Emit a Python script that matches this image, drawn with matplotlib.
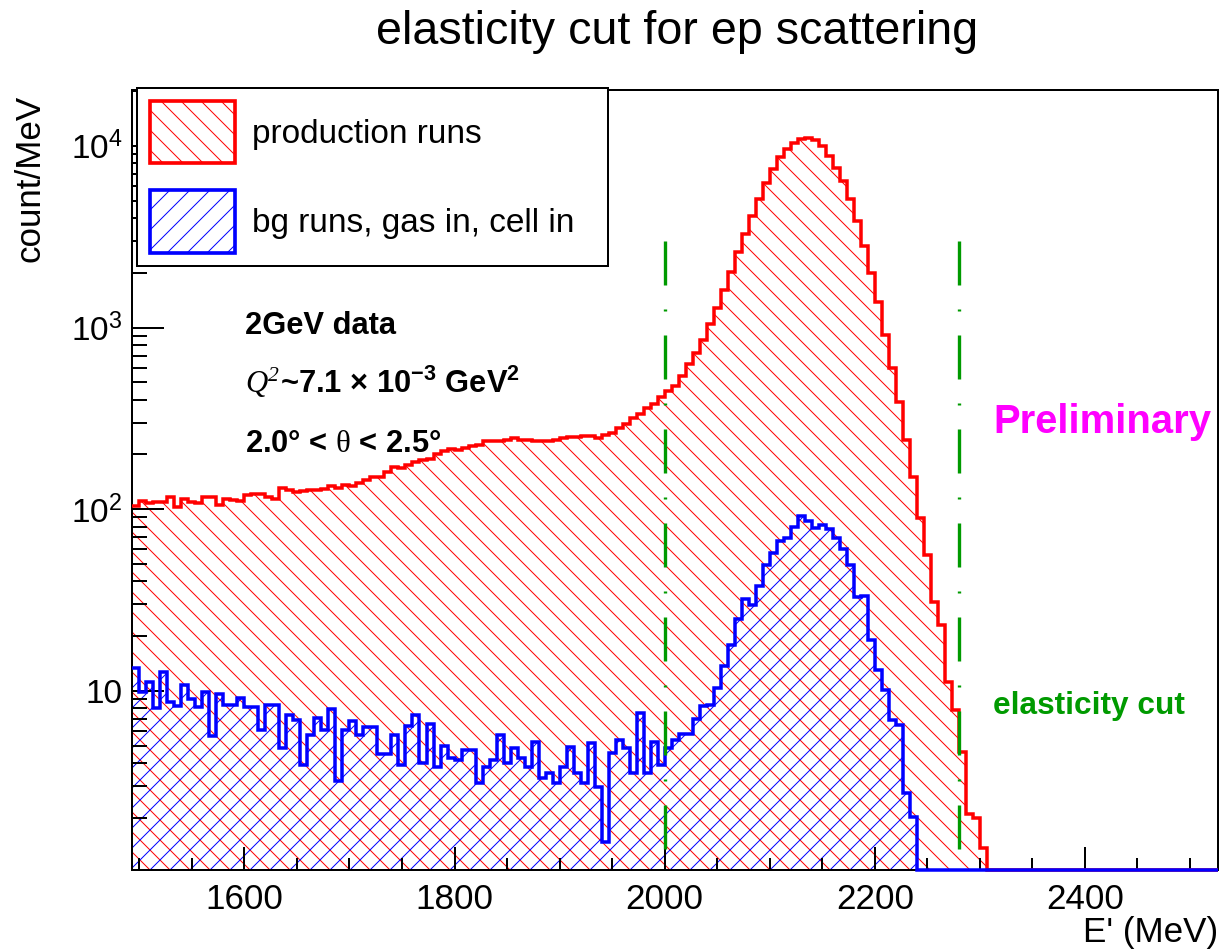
import numpy as np
import matplotlib
matplotlib.use("Agg")
import matplotlib.pyplot as plt
from matplotlib.patches import Patch
from matplotlib.ticker import (FixedLocator, FixedFormatter, MultipleLocator,
                               LogLocator, NullFormatter)

plt.rcParams["font.family"] = ["Liberation Sans", "DejaVu Sans"]
plt.rcParams["mathtext.fontset"] = "custom"
plt.rcParams["mathtext.rm"] = "Liberation Serif"
plt.rcParams["mathtext.it"] = "Liberation Serif:italic"
plt.rcParams["mathtext.bf"] = "Liberation Sans:bold"
plt.rcParams["mathtext.default"] = "regular"
plt.rcParams["hatch.linewidth"] = 0.6

# binning of E' (MeV)
e_lo = 1493.33
bin_w = 20.0 / 3.0
n_bins = 155

# count/MeV, production runs (bins 0..154)
production = [
    104, 111, 108, 110, 110, 117, 102.5, 113.5, 109, 108,
    116, 116, 106, 113.5, 112.5, 111, 120, 121, 121, 117,
    114, 130, 127, 125, 126, 128, 128, 129, 135, 130,
    136, 134, 139, 145, 150, 150, 161, 170, 168, 175,
    183, 187, 190, 202, 208, 214, 212, 217, 222, 226,
    236, 236, 238, 240, 246, 239, 239, 238, 236, 236,
    240, 247, 249, 249, 253, 253, 246, 256, 264, 280,
    295, 317, 334, 362, 378, 415, 445, 479, 541, 628,
    728, 853, 1040, 1278, 1611, 2016, 2618, 3282, 4131, 5105,
    6209, 7446, 8668, 9556, 10400, 10920, 11050, 10720, 9950, 8830,
    7590, 6400, 5105, 3838, 2818, 1994, 1384, 905, 598, 389,
    241, 151, 89, 56, 31, 23, 11.2, 7.8, 4.6, 2.1,
    2.0, 1.37, 0, 0, 0, 0, 0, 0, 0, 0,
    0, 0, 0, 0, 0, 0, 0, 0, 0, 0,
    0, 0, 0, 0, 0, 0, 0, 0, 0, 0,
    0, 0, 0, 0, 0,
]

# count/MeV, background runs (gas in, cell in)
background = [
    13.3, 9.9, 11.2, 8.0, 12.7, 8.7, 8.25, 10.8, 9.0, 8.2,
    9.8, 5.65, 9.6, 8.4, 8.4, 9.1, 8.2, 8.2, 6.1, 8.4,
    8.4, 4.83, 7.4, 6.9, 3.9, 5.7, 7.1, 6.1, 7.9, 3.19,
    6.1, 6.8, 5.7, 6.35, 6.35, 4.5, 4.5, 5.7, 3.9, 6.4,
    7.4, 4.0, 6.6, 3.83, 5.0, 4.26, 4.17, 4.73, 4.73, 3.10,
    3.83, 4.17, 5.73, 4.0, 4.83, 4.26, 3.83, 5.26, 3.30, 3.52,
    3.10, 3.83, 4.94, 3.52, 3.10, 5.15, 2.97, 1.48, 4.54, 5.38,
    4.83, 3.52, 7.54, 3.52, 5.26, 3.91, 4.87, 5.34, 5.78, 5.78,
    7.0, 8.3, 8.4, 10.4, 13.7, 17.8, 24.8, 32.0, 29.8, 38.0,
    49.6, 57.1, 67.2, 69.3, 79.7, 91.2, 85.8, 78.8, 82.2, 77.3,
    69.3, 60.7, 49.0, 33.0, 33.4, 19.1, 13.0, 10.1, 6.93, 6.52,
    2.74, 2.02, 0, 0, 0, 0, 0, 0, 0, 0,
    0, 0, 0, 0, 0, 0, 0, 0, 0, 0,
    0, 0, 0, 0, 0, 0, 0, 0, 0, 0,
    0, 0, 0, 0, 0, 0, 0, 0, 0, 0,
    0, 0, 0, 0, 0,
]

labels = ["production runs", "bg runs, gas in, cell in"]
cuts = [2000, 2280]
cut_top = 3000
y_ticks = [10, 100, 1000, 10000]
y_ticklabels = ["10", "$10^{2}$", "$10^{3}$", "$10^{4}$"]

edges = e_lo + bin_w * np.arange(n_bins + 1)
y_lo, y_hi = 1.033, 2.03e4

fig = plt.figure(figsize=(10.2, 7.925), dpi=120)
ax = fig.add_axes([0.1081, 0.0852, 0.8870, 0.8202])
ax.set_yscale("log")

series = [(production, "red", r"\\"), (background, "blue", "//")]
for vals, col, hatch in series:
    v = np.asarray(vals, dtype=float)
    v = np.where(v > 0, v, y_lo)
    ax.stairs(v, edges, baseline=1e-3, fill=True, facecolor="none",
              edgecolor=col, hatch=hatch, linewidth=0, zorder=1)
for vals, col, hatch in series:
    v = np.asarray(vals, dtype=float)
    v = np.where(v > 0, v, y_lo)
    ax.stairs(v, edges, baseline=None, color=col, linewidth=2.1,
              zorder=3, clip_on=False)

for c in cuts:
    ax.plot([c, c], [cut_top, y_lo * 0.99], color="#009a00", linewidth=2.0,
            dashes=(13.2, 7.2, 0.6, 7.2), zorder=4)

ax.set_xlim(edges[0], edges[-1])
ax.set_ylim(y_lo, y_hi)

ax.xaxis.set_major_locator(MultipleLocator(200))
ax.xaxis.set_minor_locator(MultipleLocator(50))
ax.yaxis.set_major_locator(FixedLocator(y_ticks))
ax.yaxis.set_major_formatter(FixedFormatter(y_ticklabels))
ax.yaxis.set_minor_locator(LogLocator(base=10, subs=np.arange(2, 10)))
ax.yaxis.set_minor_formatter(NullFormatter())

ax.tick_params(axis="x", which="major", direction="in", length=13.8,
               width=1.2, labelsize=21, pad=8)
ax.tick_params(axis="x", which="minor", direction="in", length=7.2, width=1.2)
ax.tick_params(axis="y", which="major", direction="in", length=19,
               width=1.2, labelsize=20, pad=6)
ax.tick_params(axis="y", which="minor", direction="in", length=9, width=1.2)
for sp in ax.spines.values():
    sp.set_linewidth(1.2)

handles = [
    Patch(facecolor="white", edgecolor="red", hatch=r"\\", linewidth=2.2),
    Patch(facecolor="white", edgecolor="blue", hatch="//", linewidth=2.2),
]
leg = ax.legend(handles, labels, loc="upper left",
                bbox_to_anchor=(0.0043, 0.7756, 0.4338, 0.2270),
                mode="expand", borderaxespad=0, fontsize=20,
                handlelength=2.55, handleheight=2.49, handletextpad=0.5,
                labelspacing=0.81, borderpad=0.4, fancybox=False,
                framealpha=1, edgecolor="black")
leg.get_frame().set_linewidth(1.2)

fig.text(0.553, 0.9537, "elasticity cut for ep scattering", fontsize=28,
         ha="center", va="baseline")
fig.text(0.0245, 1 - 95 / 951, "count/MeV", fontsize=21, rotation=90,
         ha="center", va="top")
fig.text(1218 / 1224, 0.0098, "E' (MeV)", fontsize=21, ha="right",
         va="baseline")

fig.text(0.2002, 0.6488, "2GeV data", fontsize=18.5, fontweight="bold",
         va="baseline")
fig.text(0.2002, 0.5868, "Q$^{2}$", fontsize=18.5, family="Liberation Serif",
         style="italic", va="baseline")
fig.text(0.2287, 0.5868, "~7.1 \u00d7 10$^{-3}$ GeV$^{2}$", fontsize=18.5,
         fontweight="bold", va="baseline")
fig.text(0.2002, 0.5247, r"2.0$\degree$ < $\mathrm{\theta}$ < 2.5$\degree$",
         fontsize=18.5, fontweight="bold", va="baseline")

fig.text(0.8113, 0.5447, "Preliminary", fontsize=24, fontweight="bold",
         color="#ff00ff", va="baseline")
fig.text(0.8113, 0.2492, "elasticity cut", fontsize=19, fontweight="bold",
         color="#009a00", va="baseline")

fig.savefig("out.png", dpi=120)
